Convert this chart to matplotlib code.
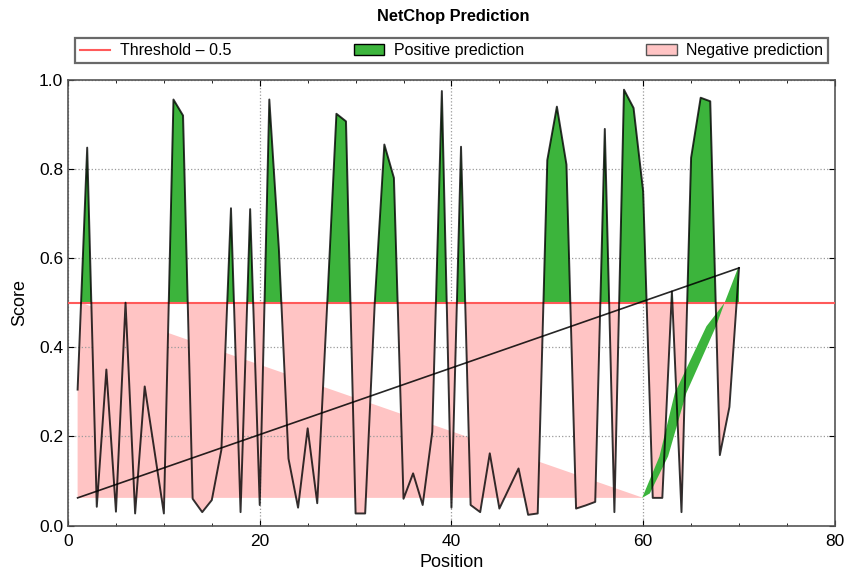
import numpy as np
import matplotlib
matplotlib.use("Agg")
import matplotlib.pyplot as plt
from matplotlib.lines import Line2D
from matplotlib.patches import Patch

plt.rcParams['font.family'] = ['Liberation Sans', 'DejaVu Sans']

# NetChop scores, one per residue position
position = np.arange(1, 71)
score = np.array([
    0.305, 0.848, 0.042, 0.350, 0.031, 0.500, 0.027, 0.312, 0.170, 0.027,
    0.956, 0.920, 0.060, 0.030, 0.057, 0.170, 0.712, 0.030, 0.710, 0.046,
    0.956, 0.620, 0.150, 0.040, 0.218, 0.050, 0.480, 0.924, 0.907, 0.027,
    0.027, 0.500, 0.855, 0.780, 0.060, 0.117, 0.046, 0.210, 0.975, 0.040,
    0.850, 0.046, 0.030, 0.162, 0.038, 0.083, 0.128, 0.024, 0.027, 0.820,
    0.940, 0.810, 0.038, 0.045, 0.053, 0.890, 0.030, 0.978, 0.937, 0.750,
    0.062, 0.062, 0.525, 0.030, 0.825, 0.960, 0.952, 0.158, 0.266, 0.578,
])
threshold = 0.5

# rendering leftovers visible in the original figure
diag_x = [1, 70]
diag_y = [0.062, 0.578]
tri_x = [1.36, 1, 1, 60]
tri_y = [0.5, 0.305, 0.062, 0.062]
strip_x = [59.9, 61.7, 63.3, 66.6, 68.5, 69.9, 69.9, 68.5, 67.6, 64.5, 62.6, 60.7]
strip_y = [0.062, 0.155, 0.297, 0.447, 0.5, 0.578, 0.5, 0.5, 0.447, 0.297, 0.155, 0.072]

green = '#3cb43c'
pink = '#ffc4c4'

fig = plt.figure(figsize=(8.45, 5.79), dpi=100)
ax = fig.add_axes([0.0805, 0.0924, 0.9075, 0.7696])

neg = (score < threshold) & (position > 1)
ax.fill(tri_x, tri_y, color=pink, lw=0, zorder=1)
ax.fill_between(position, score, threshold, where=neg,
                interpolate=True, facecolor=pink, edgecolor='none', zorder=2)
ax.fill_between(position, score, threshold, where=score >= threshold,
                interpolate=True, facecolor=green, edgecolor='none', zorder=2)
ax.fill(strip_x, strip_y, color=green, lw=0, zorder=2.5)
ax.axhline(threshold, color='#ff5a5a', lw=1.5, zorder=3)
ax.plot(position, score, color='black', lw=1.4, alpha=0.8, zorder=4)
ax.plot(diag_x, diag_y, color='black', lw=1.2, alpha=0.85, zorder=4)

ax.set_xlim(0, 80)
ax.set_ylim(0, 1)
ax.set_xticks([0, 20, 40, 60, 80])
ax.set_xticks(np.arange(0, 81, 5), minor=True)
ax.set_yticks([0.0, 0.2, 0.4, 0.6, 0.8, 1.0])
ax.tick_params(direction='in', top=True, right=True, labelsize=12.5, length=4)
ax.tick_params(axis='x', pad=6)
ax.tick_params(which='minor', direction='in', top=True, right=True, length=2.5)
ax.grid(True, which='major', ls=':', color='#9a9a9a', lw=0.9)
for s in ax.spines.values():
    s.set_color('#555555')
    s.set_linewidth(1.2)

ax.set_xlabel('Position', fontsize=13, labelpad=4)
ax.set_ylabel('Score', fontsize=13, labelpad=8)

handles = [
    Line2D([], [], color='#ff5a5a', lw=1.5),
    Patch(facecolor=green, edgecolor='black', lw=1),
    Patch(facecolor=pink, edgecolor='#555555', lw=1),
]
labels = ['Threshold \u2013 0.5', 'Positive prediction', 'Negative prediction']
leg = fig.legend(handles, labels, loc='lower left', ncol=3, mode='expand',
                 bbox_to_anchor=(75 / 845, 1 - 63 / 579, 753 / 845, 26 / 579),
                 fontsize=11.5, fancybox=False, borderaxespad=0,
                 handlelength=1.9, handletextpad=0.6, borderpad=0.3)
leg.get_frame().set_edgecolor('#444444')
leg.get_frame().set_linewidth(1.6)

fig.text(453 / 845, 1 - 17 / 579, 'NetChop Prediction', ha='center', va='center',
         fontsize=11.8, fontweight='bold')

fig.savefig('out.png', dpi=100)
